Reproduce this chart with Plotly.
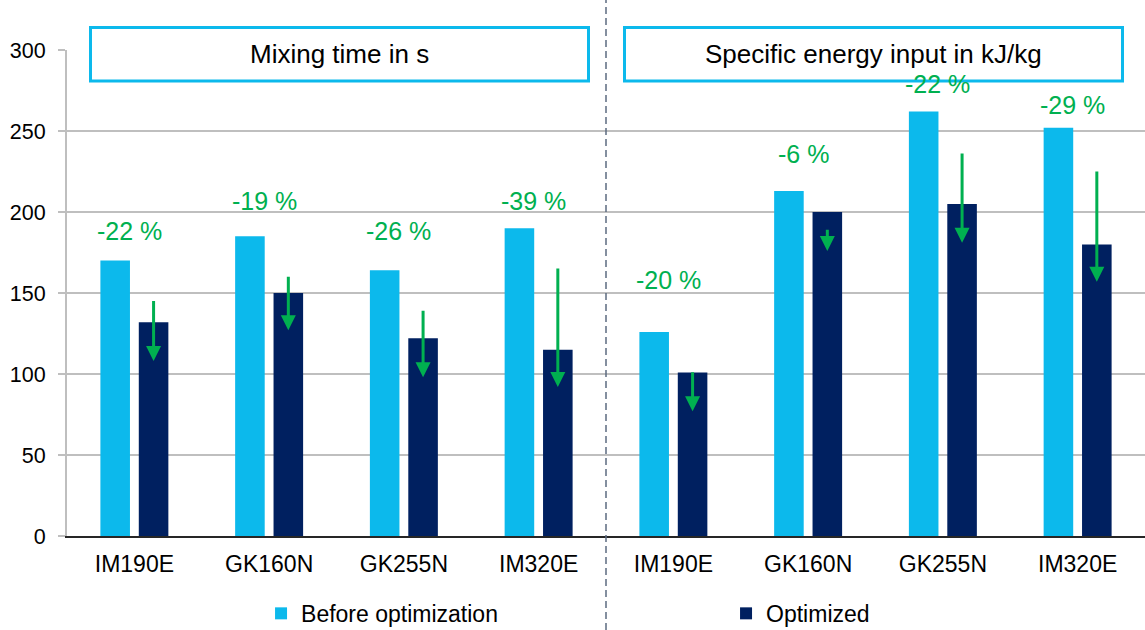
import plotly.graph_objects as go

# Machines, shown once per panel (mixing time | specific energy input)
machines = ["IM190E", "GK160N", "GK255N", "IM320E"]
categories = machines + machines

# Mixing time in s
mix_before = [170, 185, 164, 190]
mix_optimized = [132, 150, 122, 115]

# Specific energy input in kJ/kg
energy_before = [126, 213, 262, 252]
energy_optimized = [101, 200, 205, 180]

before = mix_before + energy_before
optimized = mix_optimized + energy_optimized

# Reduction arrows (start value -> arrow tip value)
arrow_from = [146, 161, 140, 166, 102, 190, 237, 226]
arrow_to = [108, 127, 98, 92, 77, 176, 181, 157]

# Vertical placement of the percentage labels (data units)
label_y = [188, 207, 188, 207, 158, 236, 279, 266]

panel_titles = ["Mixing time in s", "Specific energy input in kJ/kg"]
y_ticks = [0, 50, 100, 150, 200, 250, 300]

LIGHT = "#0CB9EC"
DARK = "#002060"
GREEN = "#00B050"
FONT = "Liberation Sans, Arial, sans-serif"

W, H = 1145, 630
M_L, M_R, M_T, M_B = 67, 0, 50, 94
PLOT_H = H - M_T - M_B

BARGAP = 0.43
x = list(range(len(categories)))
# centre of the "Optimized" bar inside each group
dark_offset = (1 - BARGAP) / 4

fig = go.Figure()
fig.add_trace(go.Bar(x=x, y=before, name="Before optimization",
                     marker=dict(color=LIGHT, line=dict(width=0))))
fig.add_trace(go.Bar(x=x, y=optimized, name="Optimized",
                     marker=dict(color=DARK, line=dict(width=0))))

annotations = []
for i in x:
    pct = int(round((optimized[i] - before[i]) / before[i] * 100))
    annotations.append(dict(
        x=i, y=label_y[i], xref="x", yref="y", text=f"{pct} %",
        showarrow=False, xshift=-5,
        font=dict(family=FONT, size=25, color=GREEN)))
    annotations.append(dict(
        x=i + dark_offset, y=arrow_to[i], xref="x", yref="y",
        ax=i + dark_offset, ay=arrow_from[i], axref="x", ayref="y",
        text="", showarrow=True, arrowhead=2, arrowsize=1, arrowwidth=3,
        arrowcolor=GREEN, standoff=0, startstandoff=0))

# panel titles in outlined boxes
box_y0 = (H - M_B - 81) / PLOT_H
box_y1 = (H - M_B - 27.5) / PLOT_H
plot_w = W - M_L - M_R
boxes = [((90.5 - M_L) / plot_w, (588.5 - M_L) / plot_w),
         ((624.5 - M_L) / plot_w, (1122.5 - M_L) / plot_w)]
shapes = []
for (bx0, bx1), title in zip(boxes, panel_titles):
    shapes.append(dict(type="rect", xref="paper", yref="paper",
                       x0=bx0, x1=bx1, y0=box_y0, y1=box_y1,
                       line=dict(color=LIGHT, width=3), fillcolor="rgba(0,0,0,0)"))
    annotations.append(dict(x=(bx0 + bx1) / 2, y=(box_y0 + box_y1) / 2,
                            xref="paper", yref="paper", text=title,
                            showarrow=False, xanchor="center", yanchor="middle",
                            font=dict(family=FONT, size=26, color="black")))

# dashed divider between the two panels
shapes.append(dict(type="line", xref="x", yref="paper",
                   x0=3.5, x1=3.5, y0=-M_B / PLOT_H, y1=1 + M_T / PLOT_H,
                   line=dict(color="#5C6B80", width=1.5, dash="7px,4px")))

fig.update_layout(
    width=W, height=H,
    margin=dict(l=M_L, r=M_R, t=M_T, b=M_B, autoexpand=False),
    paper_bgcolor="white", plot_bgcolor="white",
    barmode="group", bargap=BARGAP, bargroupgap=0.23,
    font=dict(family=FONT, color="black"),
    showlegend=True,
    legend=dict(orientation="h", x=0.18, xanchor="left", y=-0.115, yanchor="top",
                font=dict(family=FONT, size=23, color="black"),
                entrywidth=420, entrywidthmode="pixels",
                bgcolor="rgba(0,0,0,0)"),
    annotations=annotations,
    shapes=shapes,
)
fig.update_xaxes(range=[-0.5, 7.5], tickvals=x, ticktext=categories,
                 showgrid=False, zeroline=False,
                 showline=True, linecolor="#262626", linewidth=2,
                 ticks="", tickfont=dict(family=FONT, size=23, color="black"),
                 ticklabelstandoff=6)
fig.update_yaxes(range=[0, 300], tickvals=y_ticks,
                 showgrid=True, gridcolor="#BFBFBF", gridwidth=1.5,
                 zeroline=False, showline=True, linecolor="#BFBFBF", linewidth=2,
                 ticks="outside", ticklen=7, tickcolor="#BFBFBF", tickwidth=2,
                 tickfont=dict(family=FONT, size=21.5, color="black"),
                 ticklabelstandoff=8)

fig.write_html("out.html")
